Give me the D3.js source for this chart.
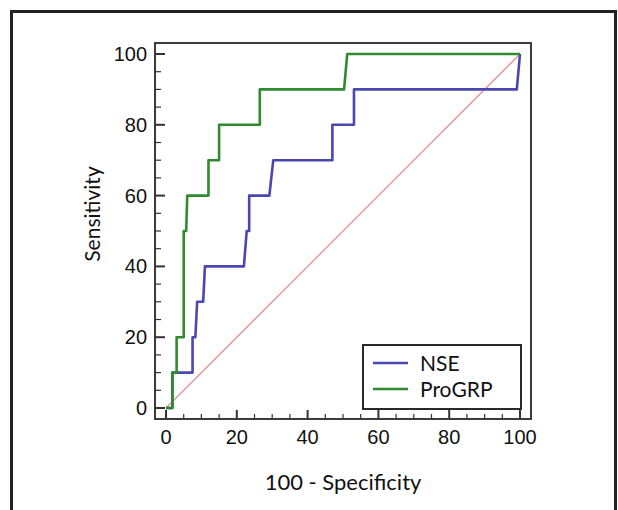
<!DOCTYPE html>
<html>
<head>
<meta charset="utf-8">
<script src="https://cdn.jsdelivr.net/npm/d3@7"></script>
<style>
  html, body { margin: 0; padding: 0; background: #fff; }
  svg { display: block; }
</style>
</head>
<body>
<svg id="chart" width="618" height="510"></svg>
<script>
// ---- data (100 - specificity, sensitivity) ----
const nseX    = [0, 1.8, 1.8, 7.5, 7.5, 8.3, 8.8, 10.5, 11.0, 22.0, 22.8, 23.5, 23.5, 29.2, 30.3, 47.0, 47.0, 53.1, 53.1, 99.1, 100];
const nseY    = [0, 0,   10,  10,  20,  20,  30,  30,   40,   40,   50,   50,   60,   60,   70,   70,   80,   80,   90,   90,   100];
const progrpX = [0, 1.8, 1.8, 3.0, 3.0, 5.0, 5.0, 5.7, 6.0, 12.0, 12.0, 15.0, 15.0, 26.5, 26.5, 50.3, 51.2, 100];
const progrpY = [0, 0,   10,  10,  20,  20,  50,  50,  60,  60,   70,   70,   80,   80,   90,   90,   100,  100];
const refX = [0, 100];
const refY = [0, 100];
const seriesNames = ["NSE", "ProGRP"];
const xTicks = [0, 20, 40, 60, 80, 100];
const yTicks = [0, 20, 40, 60, 80, 100];
const xLabel = "100 - Specificity";
const yLabel = "Sensitivity";

const colors = { NSE: "#4a48b0", ProGRP: "#2f8a30", ref: "#e39393" };

const svg = d3.select("#chart");

// outer frame (no bottom edge visible)
svg.append("path")
  .attr("d", "M11.5,515 L11.5,11.5 L615.5,11.5 L615.5,515")
  .attr("fill", "none").attr("stroke", "#222").attr("stroke-width", 3);

const x = d3.scaleLinear().domain([0, 100]).range([166, 520]);
const y = d3.scaleLinear().domain([0, 100]).range([408, 54]);

const pad = 3.1;
const box = { l: x(-pad), r: x(100 + pad), t: y(100 + pad), b: y(-pad) };

// plot box
svg.append("rect")
  .attr("x", box.l).attr("y", box.t)
  .attr("width", box.r - box.l).attr("height", box.b - box.t)
  .attr("fill", "none").attr("stroke", "#3a3a3a").attr("stroke-width", 2);

// y ticks (inside pointing right)
const yMinor = d3.range(0, 101, 5);
svg.append("g").selectAll("line").data(yMinor).join("line")
  .attr("x1", box.l).attr("x2", d => box.l + (d % 20 === 0 ? 10 : 6))
  .attr("y1", d => y(d)).attr("y2", d => y(d))
  .attr("stroke", "#333").attr("stroke-width", d => d % 20 === 0 ? 2 : 1.2);

svg.append("g").selectAll("text").data(yTicks).join("text")
  .attr("x", box.l - 8).attr("y", d => y(d))
  .attr("dy", "0.35em")
  .attr("text-anchor", "end")
  .attr("font-family", "Liberation Sans, Arial, sans-serif")
  .attr("font-size", 20).attr("fill", "#111")
  .text(d => d);

// x ticks (inside pointing up)
const xMinor = d3.range(0, 101, 5);
svg.append("g").selectAll("line").data(xMinor).join("line")
  .attr("y1", box.b).attr("y2", d => box.b - (d % 20 === 0 ? 9 : 5))
  .attr("x1", d => x(d)).attr("x2", d => x(d))
  .attr("stroke", "#333").attr("stroke-width", d => d % 20 === 0 ? 2 : 1.2);

svg.append("g").selectAll("text").data(xTicks).join("text")
  .attr("x", d => x(d)).attr("y", box.b + 25)
  .attr("text-anchor", "middle")
  .attr("font-family", "Liberation Sans, Arial, sans-serif")
  .attr("font-size", 20).attr("fill", "#111")
  .text(d => d);

// axis titles
svg.append("text")
  .attr("x", x(50)).attr("y", 490)
  .attr("text-anchor", "middle")
  .attr("font-family", "Lato, sans-serif")
  .attr("font-size", 22).attr("fill", "#111")
  .text(xLabel);

svg.append("text")
  .attr("transform", `translate(100,214) rotate(-90)`)
  .attr("text-anchor", "middle")
  .attr("font-family", "Lato, sans-serif")
  .attr("font-size", 21).attr("fill", "#111")
  .text(yLabel);

// lines
const line = d3.line().x(d => x(d[0])).y(d => y(d[1]));
svg.append("defs").append("clipPath").attr("id", "clip")
  .append("rect").attr("x", box.l).attr("y", box.t)
  .attr("width", box.r - box.l).attr("height", box.b - box.t);

const g = svg.append("g").attr("clip-path", "url(#clip)");
g.append("path").datum(d3.zip(refX, refY)).attr("d", line)
  .attr("fill", "none").attr("stroke", colors.ref).attr("stroke-width", 1.3);
g.append("path").datum(d3.zip(nseX, nseY)).attr("d", line)
  .attr("fill", "none").attr("stroke", colors.NSE).attr("stroke-width", 2.6)
  .attr("stroke-linejoin", "round");
g.append("path").datum(d3.zip(progrpX, progrpY)).attr("d", line)
  .attr("fill", "none").attr("stroke", colors.ProGRP).attr("stroke-width", 2.6)
  .attr("stroke-linejoin", "round");

// legend
const lg = svg.append("g");
lg.append("rect").attr("x", 363).attr("y", 345).attr("width", 158).attr("height", 64)
  .attr("fill", "#fff").attr("stroke", "#2a2a2a").attr("stroke-width", 2);
seriesNames.forEach((name, i) => {
  const cy = 363 + i * 26;
  lg.append("line").attr("x1", 373).attr("x2", 408).attr("y1", cy).attr("y2", cy)
    .attr("stroke", colors[name]).attr("stroke-width", 2.6);
  lg.append("text").attr("x", 420).attr("y", cy).attr("dy", "0.36em")
    .attr("font-family", "Lato, sans-serif").attr("font-size", 21).attr("fill", "#111")
    .text(name);
});
</script>
</body>
</html>
